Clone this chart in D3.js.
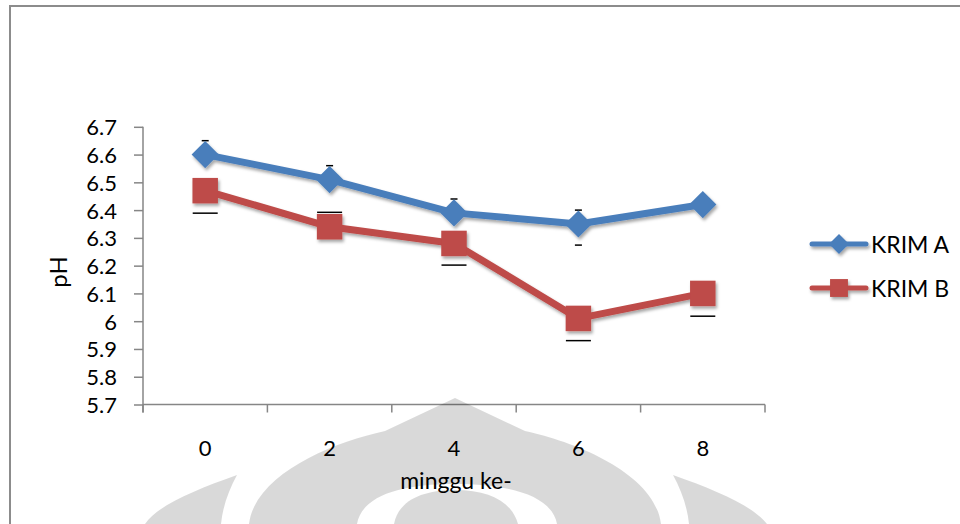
<!DOCTYPE html>
<html>
<head>
<meta charset="utf-8">
<script src="https://cdn.jsdelivr.net/npm/d3@7"></script>
<style>
  html, body { margin: 0; padding: 0; background: #fff; }
  svg { display: block; }
  text { font-family: Lato, "Open Sans", sans-serif; fill: #000; }
</style>
</head>
<body>
<svg id="chart" width="960" height="524"></svg>
<script>
// Weekly pH of two cream formulations
const weeks = ["0", "2", "4", "6", "8"];
const krimA = [6.60, 6.51, 6.39, 6.35, 6.42];
const krimB = [6.47, 6.34, 6.28, 6.01, 6.10];
// error-bar extents (upper / lower) per week; 0 = none shown
const krimAUp = [0.05, 0.05, 0.05, 0.05, 0];
const krimADown = [0, 0, 0, 0.076, 0];
const krimBUp = [0, 0.052, 0, 0, 0];
const krimBDown = [0.081, 0, 0.078, 0.08, 0.082];
const yTicks = [5.7, 5.8, 5.9, 6.0, 6.1, 6.2, 6.3, 6.4, 6.5, 6.6, 6.7];
const seriesNames = ["KRIM A", "KRIM B"];
const xTitle = "minggu ke-";
const yTitle = "pH";

const colA = "#4a7ebb";
const colB = "#be4b48";
const axisCol = "#868686";

const svg = d3.select("#chart");

// soft drop shadow for series lines and markers
const defs = svg.append("defs");
const f = defs.append("filter").attr("id", "shadow")
  .attr("x", "-30%").attr("y", "-30%").attr("width", "160%").attr("height", "160%");
f.append("feDropShadow").attr("dx", 1.5).attr("dy", 2.5).attr("stdDeviation", 1.6)
  .attr("flood-color", "#000").attr("flood-opacity", 0.35);

// outer frame
svg.append("path")
  .attr("d", "M10,530 L10,6 L970,6")
  .attr("fill", "none").attr("stroke", "#8c8c8c").attr("stroke-width", 2);

const x = d3.scaleBand().domain(weeks).range([143, 765]).padding(0);
const y = d3.scaleLinear().domain([5.7, 6.7]).range([404.5, 126.8]);
const cx = d => x(d) + x.bandwidth() / 2;

// y axis
const yAxis = d3.axisLeft(y).tickValues(yTicks)
  .tickFormat(d3.format("~g")).tickSizeInner(9).tickSizeOuter(0).tickPadding(17);
const gy = svg.append("g").attr("transform", "translate(143,0)").call(yAxis);
gy.select(".domain").attr("stroke", axisCol).attr("stroke-width", 1.5)
  .attr("d", `M0,${y(6.7)}V${y(5.7) + 8}`);
gy.selectAll(".tick line").attr("stroke", axisCol).attr("stroke-width", 1.5);
gy.selectAll(".tick text").attr("font-size", 22).attr("dy", "0.36em")
  .style("font-family", "Lato, sans-serif");

// x axis: ticks on category boundaries, labels centred in each category
const gx = svg.append("g").attr("transform", `translate(0,${y(5.7)})`);
gx.append("line").attr("x1", x.range()[0]).attr("x2", x.range()[1])
  .attr("stroke", axisCol).attr("stroke-width", 1.5);
const bounds = weeks.map(d => x(d)).concat([x.range()[1]]);
gx.selectAll("line.tk").data(bounds).join("line").attr("class", "tk")
  .attr("x1", d => d).attr("x2", d => d).attr("y1", 0).attr("y2", 8)
  .attr("stroke", axisCol).attr("stroke-width", 1.5);
gx.selectAll("text").data(weeks).join("text")
  .attr("x", d => cx(d)).attr("y", 51)
  .attr("text-anchor", "middle").attr("font-size", 22).text(d => d);

// axis titles
svg.append("text").attr("x", 456).attr("y", 489).attr("text-anchor", "middle")
  .attr("font-size", 23).text(xTitle);
svg.append("text").attr("transform", "translate(67,272) rotate(-90)")
  .attr("text-anchor", "middle").attr("font-size", 24).text(yTitle);

// error-bar caps
function caps(vals, up, down, w) {
  const items = [];
  vals.forEach((v, i) => {
    if (up[i]) items.push({ k: weeks[i], v: v + up[i] });
    if (down[i]) items.push({ k: weeks[i], v: v - down[i] });
  });
  svg.append("g").selectAll("line").data(items).join("line")
    .attr("x1", d => cx(d.k) - w / 2).attr("x2", d => cx(d.k) + w / 2)
    .attr("y1", d => y(d.v)).attr("y2", d => y(d.v))
    .attr("stroke", "#000").attr("stroke-width", 1.5);
}
caps(krimA, krimAUp, krimADown, 7);
caps(krimB, krimBUp, krimBDown, 25);

const line = d3.line().x((d, i) => cx(weeks[i])).y(d => y(d));
const diamond = d3.symbol().type(d3.symbolSquare).size(370);
const square = d3.symbol().type(d3.symbolSquare).size(650);

function series(vals, col, sym, rot) {
  const g = svg.append("g").attr("filter", "url(#shadow)");
  g.append("path").datum(vals).attr("d", line)
    .attr("fill", "none").attr("stroke", col).attr("stroke-width", 7)
    .attr("stroke-linejoin", "round");
  g.selectAll("path.m").data(vals).join("path").attr("class", "m")
    .attr("d", sym)
    .attr("transform", (d, i) => `translate(${cx(weeks[i])},${y(d)}) rotate(${rot})`)
    .attr("fill", col);
}
series(krimA, colA, diamond, 45);
series(krimB, colB, square, 0);

// legend
const legend = svg.append("g");
const legendItems = [
  { name: seriesNames[0], col: colA, sym: d3.symbol().type(d3.symbolSquare).size(200), rot: 45, yy: 244 },
  { name: seriesNames[1], col: colB, sym: d3.symbol().type(d3.symbolSquare).size(320), rot: 0, yy: 288 }
];
legendItems.forEach(it => {
  const g = legend.append("g").attr("filter", "url(#shadow)");
  g.append("line").attr("x1", 812).attr("x2", 866).attr("y1", it.yy).attr("y2", it.yy)
    .attr("stroke", it.col).attr("stroke-width", 5).attr("stroke-linecap", "round");
  g.append("path").attr("d", it.sym).attr("fill", it.col)
    .attr("transform", `translate(839,${it.yy}) rotate(${it.rot})`);
  legend.append("text").attr("x", 871).attr("y", it.yy + 9).attr("font-size", 23).text(it.name);
});

// faint emblem across the lower part of the page
const emblem = svg.append("g").attr("fill", "#000").attr("fill-opacity", 0.15);
emblem.append("path").attr("fill-rule", "evenodd").attr("d",
  "M455,398 L385,431 C330,443 255,475 249,524 L661,524 C655,475 580,443 525,431 Z " +
  "M357,524 C362,496 400,484 455,484 C510,484 552,496 557,524 Z");
emblem.append("path").attr("d",
  "M394,524 C398,502 420,490 455,490 C490,490 512,502 518,524 Z");
emblem.append("path").attr("d",
  "M237,475 C195,490 158,505 145,524 L221,524 C223,505 229,490 237,475 Z");
emblem.append("path").attr("d",
  "M673,475 C715,490 752,505 767,524 L689,524 C687,505 681,490 673,475 Z");
</script>
</body>
</html>
